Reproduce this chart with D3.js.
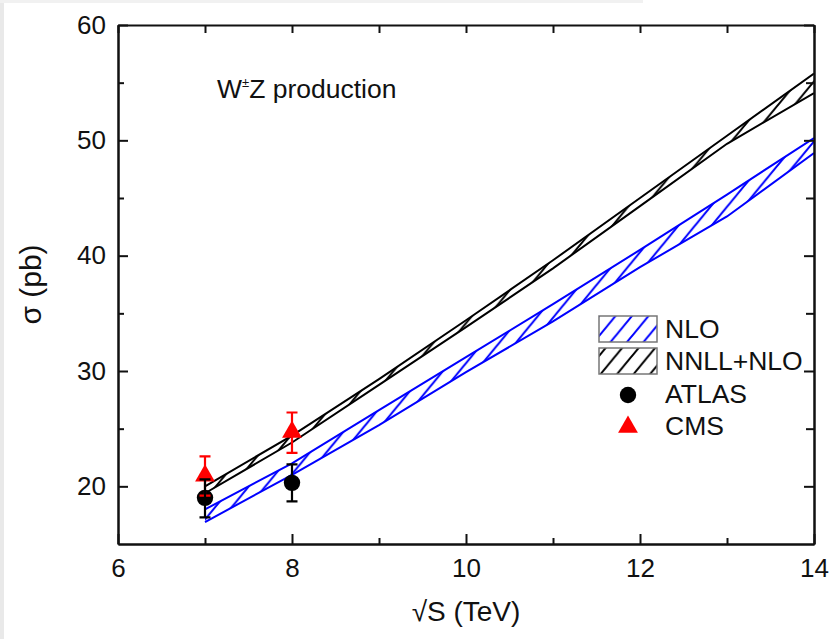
<!DOCTYPE html>
<html>
<head>
<meta charset="utf-8">
<script src="https://cdn.jsdelivr.net/npm/d3@7"></script>
<style>
  body { margin: 0; background: #fff; }
  svg text { font-family: "Liberation Sans", Arial, sans-serif; fill: #111; }
</style>
</head>
<body>
<div id="chart"></div>
<script>
// sqrt(S) in TeV
var energies = [7, 8, 9, 10, 11, 12, 13, 14];
var nloUpper = [18.0, 22.0, 26.6, 31.2, 35.8, 40.5, 45.3, 50.2];
var nloLower = [16.9, 21.0, 25.3, 29.9, 34.3, 39.0, 43.4, 48.9];
var nnllUpper = [20.0, 24.4, 29.3, 34.4, 39.6, 45.0, 50.4, 55.8];
var nnllLower = [19.4, 23.8, 28.8, 33.8, 38.9, 44.3, 49.7, 54.1];

var atlasX = [7, 8];
var atlasY = [19.0, 20.3];
var atlasErrUp = [1.6, 1.6];
var atlasErrDown = [1.7, 1.6];

var cmsX = [7, 8];
var cmsY = [21.0, 24.8];
var cmsErrUp = [1.6, 1.6];
var cmsErrDown = [1.8, 1.9];

var xMajor = [6, 8, 10, 12, 14];
var xMinor = [7, 9, 11, 13];
var yMajor = [20, 30, 40, 50, 60];
var yMinor = [25, 35, 45, 55];

var chart = {};
chart.width = 833;
chart.height = 639;
chart.margin = {top: 25, right: 19, bottom: 95, left: 118};
chart.plotW = chart.width - chart.margin.left - chart.margin.right;
chart.plotH = chart.height - chart.margin.top - chart.margin.bottom;

var x = d3.scaleLinear().domain([6, 14]).range([0, chart.plotW]);
var y = d3.scaleLinear().domain([15, 60]).range([chart.plotH, 0]);

var svg = d3.select("#chart")
  .append("svg")
  .attr("width", chart.width)
  .attr("height", chart.height);

// faint screenshot edges
svg.append("rect").attr("x", 0).attr("y", 0).attr("width", 4).attr("height", chart.height).attr("fill", "#e9e9e9");
svg.append("rect").attr("x", 0).attr("y", 0).attr("width", 643).attr("height", 3).attr("fill", "#f1f1f1");

// hatch patterns
var defs = svg.append("defs");
function addHatch(id, color, sw) {
  var w = 16.5, h = 20;
  defs.append("pattern")
    .attr("id", id)
    .attr("patternUnits", "userSpaceOnUse")
    .attr("width", w)
    .attr("height", h)
    .append("path")
    .attr("d", "M0," + h + "L" + w + ",0" +
      "M" + (-w / 4) + "," + (h / 4) + "L" + (w / 4) + "," + (-h / 4) +
      "M" + (3 * w / 4) + "," + (5 * h / 4) + "L" + (5 * w / 4) + "," + (3 * h / 4))
    .attr("stroke", color)
    .attr("stroke-width", sw)
    .attr("fill", "none");
}
addHatch("hatchBlue", "#0000ff", 2);
addHatch("hatchBlack", "#000", 2);

defs.append("clipPath").attr("id", "plotClip")
  .append("rect").attr("width", chart.plotW).attr("height", chart.plotH);

var plot = svg.append("g")
  .attr("transform", "translate(" + chart.margin.left + "," + chart.margin.top + ")");

var bands = plot.append("g").attr("clip-path", "url(#plotClip)");

function drawBand(upper, lower, color, pattern) {
  var rows = energies.map((e, i) => ({e: e, hi: upper[i], lo: lower[i]}));
  var area = d3.area().x(d => x(d.e)).y0(d => y(d.lo)).y1(d => y(d.hi));
  bands.append("path")
    .datum(rows)
    .attr("d", area)
    .attr("fill", "url(#" + pattern + ")");
  [d => d.hi, d => d.lo].forEach(acc => {
    bands.append("path")
      .datum(rows)
      .attr("d", d3.line().x(d => x(d.e)).y(d => y(acc(d))))
      .attr("fill", "none")
      .attr("stroke", color)
      .attr("stroke-width", 2);
  });
}
drawBand(nloUpper, nloLower, "#0000ff", "hatchBlue");
drawBand(nnllUpper, nnllLower, "#000", "hatchBlack");

// axes, ticks pointing inward
function styleAxis(g) {
  g.selectAll(".domain").attr("stroke", "#111").attr("stroke-width", 2);
  g.selectAll(".tick line").attr("stroke", "#111").attr("stroke-width", 2);
  g.selectAll("text").attr("font-size", 26).attr("fill", "#111");
}

plot.append("g").attr("transform", "translate(0," + chart.plotH + ")")
  .call(d3.axisBottom(x).tickValues(xMajor).tickFormat(d3.format("d")).tickSizeInner(-10).tickSizeOuter(0).tickPadding(15))
  .call(styleAxis);
plot.append("g").attr("transform", "translate(0," + chart.plotH + ")")
  .call(d3.axisBottom(x).tickValues(xMinor).tickFormat("").tickSizeInner(-6).tickSizeOuter(0))
  .call(styleAxis);
plot.append("g")
  .call(d3.axisTop(x).tickValues(xMajor.concat(xMinor)).tickFormat("").tickSizeInner(-8).tickSizeOuter(0))
  .call(styleAxis);

plot.append("g")
  .call(d3.axisLeft(y).tickValues(yMajor).tickFormat(d3.format("d")).tickSizeInner(-10).tickSizeOuter(0).tickPadding(12))
  .call(styleAxis);
plot.append("g")
  .call(d3.axisLeft(y).tickValues(yMinor).tickFormat("").tickSizeInner(-6).tickSizeOuter(0))
  .call(styleAxis);
plot.append("g").attr("transform", "translate(" + chart.plotW + ",0)")
  .call(d3.axisRight(y).tickValues(yMajor).tickFormat("").tickSizeInner(-10).tickSizeOuter(0))
  .call(styleAxis);
plot.append("g").attr("transform", "translate(" + chart.plotW + ",0)")
  .call(d3.axisRight(y).tickValues(yMinor).tickFormat("").tickSizeInner(-8).tickSizeOuter(0))
  .call(styleAxis);

// measurements
var atlas = atlasX.map((e, i) => ({e: e, v: atlasY[i], up: atlasErrUp[i], dn: atlasErrDown[i]}));
var cms = cmsX.map((e, i) => ({e: e, v: cmsY[i], up: cmsErrUp[i], dn: cmsErrDown[i]}));
var triangle = d3.symbol().type(d3.symbolTriangle).size(170);

function drawErrors(data, color) {
  var g = plot.append("g").attr("stroke", color).attr("stroke-width", 2.2).attr("fill", "none");
  data.forEach(d => {
    var cx = x(d.e), y1 = y(d.v + d.up), y0 = y(d.v - d.dn);
    g.append("path").attr("d",
      "M" + cx + "," + y1 + "V" + y0 +
      "M" + (cx - 5.5) + "," + y1 + "H" + (cx + 5.5) +
      "M" + (cx - 5.5) + "," + y0 + "H" + (cx + 5.5));
  });
}

plot.selectAll(".atlas")
  .data(atlas)
  .enter()
  .append("circle")
  .attr("class", "atlas")
  .attr("cx", d => x(d.e))
  .attr("cy", d => y(d.v))
  .attr("r", 8.2)
  .attr("fill", "#000");

plot.selectAll(".cms")
  .data(cms)
  .enter()
  .append("path")
  .attr("class", "cms")
  .attr("transform", d => "translate(" + x(d.e) + "," + (y(d.v) + 1) + ")")
  .attr("d", triangle)
  .attr("fill", "#ff0000");

drawErrors(cms, "#ff0000");
drawErrors(atlas, "#000");

// label
var label = plot.append("text")
  .attr("x", 99)
  .attr("y", 73)
  .attr("font-size", 26.5);
label.append("tspan").text("W");
label.append("tspan").attr("font-size", 13).attr("dy", -11).text("±");
label.append("tspan").attr("dy", 11).text("Z production");

// legend
var legend = svg.append("g").attr("transform", "translate(599,316)");
var legendRows = [
  {name: "NLO", kind: "box", pattern: "hatchBlue", y: 0},
  {name: "NNLL+NLO", kind: "box", pattern: "hatchBlack", y: 32},
  {name: "ATLAS", kind: "circle", y: 65},
  {name: "CMS", kind: "triangle", y: 97}
];
legendRows.forEach(r => {
  if (r.kind === "box") {
    legend.append("rect")
      .attr("x", 0).attr("y", r.y)
      .attr("width", 58).attr("height", 26)
      .attr("fill", "url(#" + r.pattern + ")")
      .attr("stroke", "#777")
      .attr("stroke-width", 1.5);
  } else if (r.kind === "circle") {
    legend.append("circle").attr("cx", 29).attr("cy", r.y + 14).attr("r", 8.2).attr("fill", "#000");
  } else {
    legend.append("path")
      .attr("transform", "translate(29," + (r.y + 14) + ")")
      .attr("d", triangle)
      .attr("fill", "#ff0000");
  }
  legend.append("text")
    .attr("x", 66)
    .attr("y", r.y + 22)
    .attr("font-size", 26.5)
    .text(r.name);
});

// axis titles
svg.append("text")
  .attr("transform", "translate(41," + (chart.margin.top + chart.plotH / 2) + ") rotate(-90)")
  .attr("text-anchor", "middle")
  .attr("font-size", 30)
  .text("σ (pb)");

svg.append("text")
  .attr("x", chart.margin.left + chart.plotW / 2)
  .attr("y", 621)
  .attr("text-anchor", "middle")
  .attr("font-size", 28)
  .text("√S (TeV)");
</script>
</body>
</html>
